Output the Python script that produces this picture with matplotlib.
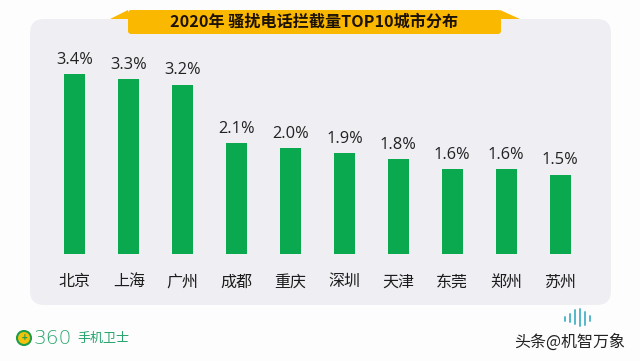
import matplotlib
matplotlib.use("Agg")
import matplotlib.pyplot as plt
from matplotlib.patches import FancyBboxPatch, Polygon, Circle

plt.rcParams['font.family'] = ['Noto Sans CJK SC', 'DejaVu Sans']

cities = ['北京', '上海', '广州', '成都', '重庆', '深圳', '天津', '东莞', '郑州', '苏州']
shares = [3.4, 3.3, 3.2, 2.1, 2.0, 1.9, 1.8, 1.6, 1.6, 1.5]
labels = ['3.4%', '3.3%', '3.2%', '2.1%', '2.0%', '1.9%', '1.8%', '1.6%', '1.6%', '1.5%']
title = '2020年 骚扰电话拦截量TOP10城市分布'

W, H = 640, 361
fig = plt.figure(figsize=(W / 100, H / 100), dpi=100, facecolor='#fefdfe')

# decoration layer in pixel coordinates (y downwards)
bg = fig.add_axes([0, 0, 1, 1])
bg.set_xlim(0, W)
bg.set_ylim(H, 0)
bg.axis('off')
bg.add_patch(FancyBboxPatch((30, 19), 581, 286, boxstyle='round,pad=0,rounding_size=14',
                            fc='#efeff3', ec='none'))
bg.add_patch(Polygon([(110, 19), (128, 10), (128, 19)], fc='#fbb800', ec='none'))
bg.add_patch(Polygon([(520, 19), (500, 10), (500, 19)], fc='#fbb800', ec='none'))
bg.add_patch(FancyBboxPatch((128, 10), 373, 24, boxstyle='round,pad=0,rounding_size=3',
                            fc='#fbb800', ec='none'))
bg.text(314, 22, title, fontsize=11.6, fontweight='bold', color='#1d1206',
        ha='center', va='center')

# 360 logo
bg.add_patch(Circle((24, 338), 7, fc='#f4c20d', ec='#1f9e4a', lw=1.5))
bg.text(24, 337.5, '+', fontsize=7, color='#1f9e4a', ha='center', va='center', fontweight='bold')
bg.text(33, 338, '360', fontsize=14.5, color='#2aa86e', ha='left', va='center',
        family=['DejaVu Sans'], fontweight='light')
bg.text(77, 338, '手机卫士', fontsize=9.4, color='#27a56d', ha='left', va='center')

# watermark
for dx, top, bot in [(-12, 317, 321), (-7, 314, 322), (-2, 310, 324), (3, 309, 326),
                     (8, 312, 325), (13, 316, 321)]:
    bg.plot([577 + dx, 577 + dx], [top, bot], color='#53b8c8', lw=1.4,
            solid_capstyle='round')
bg.text(570, 342, '头条@机智万象', fontsize=11.5, color='#222222', ha='center', va='center')

# chart
ax = fig.add_axes([48 / W, 1 - 254 / H, 539 / W, 234 / H])
ax.patch.set_alpha(0)
ax.bar(range(len(cities)), shares, width=0.39, color='#0aa84f')
ax.set_xlim(-0.5, 9.5)
ax.set_ylim(0, 234 / 52.9)
ax.set_xticks(range(len(cities)))
ax.set_xticklabels(cities, fontsize=11.5, color='#1c1c1c')
ax.tick_params(axis='x', length=0, pad=14)
ax.set_yticks([])
for s in ax.spines.values():
    s.set_visible(False)
for i, (v, t) in enumerate(zip(shares, labels)):
    ax.annotate(t, (i, v), xytext=(0, 4.5), textcoords='offset points', ha='center',
                va='bottom', fontsize=11.8, color='#222222', family=['Open Sans', 'DejaVu Sans'])

fig.savefig('out.png', dpi=100, facecolor=fig.get_facecolor())
